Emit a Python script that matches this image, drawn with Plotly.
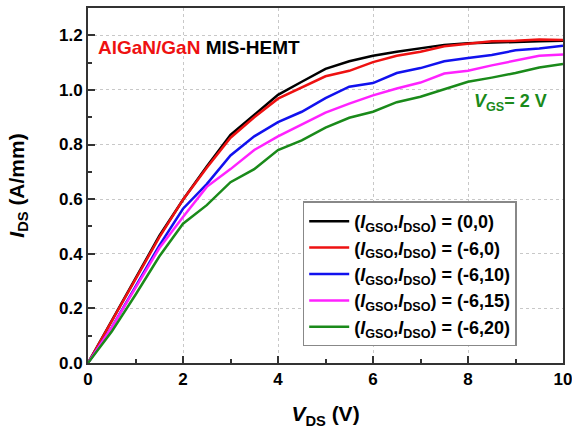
import plotly.graph_objects as go

vds = [0, 0.5, 1, 1.5, 2, 2.5, 3, 3.5, 4, 4.5, 5, 5.5, 6, 6.5, 7, 7.5, 8, 8.5, 9, 9.5, 10]

ids_0_0 = [0, 0.155, 0.305, 0.465, 0.598, 0.72, 0.835, 0.91, 0.982, 1.03, 1.077, 1.105, 1.125, 1.14, 1.153, 1.165, 1.171, 1.174, 1.177, 1.178, 1.18]
ids_6_0 = [0, 0.155, 0.305, 0.46, 0.598, 0.715, 0.825, 0.9, 0.968, 1.01, 1.05, 1.07, 1.102, 1.125, 1.14, 1.16, 1.168, 1.178, 1.18, 1.185, 1.183]
ids_6_10 = [0, 0.13, 0.28, 0.43, 0.565, 0.655, 0.76, 0.83, 0.882, 0.92, 0.97, 1.012, 1.025, 1.062, 1.08, 1.105, 1.117, 1.128, 1.145, 1.152, 1.162]
ids_6_15 = [0, 0.13, 0.275, 0.42, 0.535, 0.645, 0.71, 0.78, 0.83, 0.875, 0.917, 0.95, 0.98, 1.005, 1.027, 1.06, 1.07, 1.09, 1.107, 1.125, 1.13]
ids_6_20 = [0, 0.115, 0.25, 0.39, 0.51, 0.578, 0.662, 0.71, 0.78, 0.815, 0.862, 0.898, 0.92, 0.955, 0.975, 1.003, 1.03, 1.045, 1.062, 1.082, 1.095]

labels = ["(0,0)", "(-6,0)", "(-6,10)", "(-6,15)", "(-6,20)"]
colors = ["#000000", "#ee1111", "#1111ee", "#ff22ff", "#1a8a1a"]
series = [ids_0_0, ids_6_0, ids_6_10, ids_6_15, ids_6_20]

fig = go.Figure()
for lab, col, ys in zip(labels, colors, series):
    fig.add_trace(go.Scatter(
        x=vds, y=ys, mode="lines",
        line=dict(color=col, width=2.5),
        name="<b>(<i>I</i><sub>GSO</sub>,<i>I</i><sub>DSO</sub>) = " + lab + "</b>",
    ))

font = "Liberation Sans, Arial, sans-serif"
fig.update_layout(
    width=572, height=429,
    margin=dict(l=88, r=9, t=8, b=66),
    paper_bgcolor="white", plot_bgcolor="white",
    font=dict(family=font, size=15, color="black"),
    showlegend=True,
    hovermode=False,
    legend=dict(
        x=0.452, y=0.455, xanchor="left", yanchor="top",
        bgcolor="white", bordercolor="#888888", borderwidth=1.5,
        font=dict(family=font, size=18, color="black"),
        tracegroupgap=0, itemwidth=40,
    ),
)
fig.update_xaxes(
    range=[0, 10], dtick=2, tick0=0, automargin=False, ticklabeloverflow="allow",
    showline=True, linecolor="#333333", linewidth=2, mirror=True,
    ticks="inside", ticklen=7, tickwidth=1.5, tickcolor="#333333",
    minor=dict(ticks="inside", dtick=1, ticklen=4, tickcolor="#333333", showgrid=False),
    showgrid=True, gridcolor="#c8c8c8", griddash="dot", gridwidth=1,
    zeroline=False,
    tickfont=dict(family=font, size=17, color="black", weight="bold"),
    title=dict(text="<b><i>V</i><sub>DS</sub> (V)</b>", font=dict(family=font, size=21, color="black"), standoff=18),
)
fig.update_yaxes(
    range=[0, 1.3], dtick=0.2, tick0=0, tickformat=".1f", automargin=False, ticklabeloverflow="allow",
    showline=True, linecolor="#333333", linewidth=2, mirror=True,
    ticks="inside", ticklen=7, tickwidth=1.5, tickcolor="#333333",
    minor=dict(ticks="inside", dtick=0.1, ticklen=4, tickcolor="#333333", showgrid=False),
    showgrid=True, gridcolor="#c8c8c8", griddash="dot", gridwidth=1,
    zeroline=False,
    tickfont=dict(family=font, size=17, color="black", weight="bold"),
    title=dict(text="<b><i>I</i><sub>DS</sub> (A/mm)</b>", font=dict(family=font, size=21, color="black"), standoff=29),
)

fig.add_annotation(
    x=0.17, y=1.157, xref="x", yref="y", xanchor="left", yanchor="middle",
    text="<b><span style='color:#ee1111'>AlGaN/GaN</span> MIS-HEMT</b>",
    showarrow=False, font=dict(family=font, size=19, color="black"),
)
fig.add_annotation(
    x=9.7, y=0.955, xref="x", yref="y", xanchor="right", yanchor="middle",
    text="<b><i>V</i><sub>GS</sub>= 2 V</b>",
    showarrow=False, font=dict(family=font, size=18, color="#1a8a1a"),
)

fig.write_html("out.html", config={"displayModeBar": False},
               post_script="document.body.style.margin='0';")
